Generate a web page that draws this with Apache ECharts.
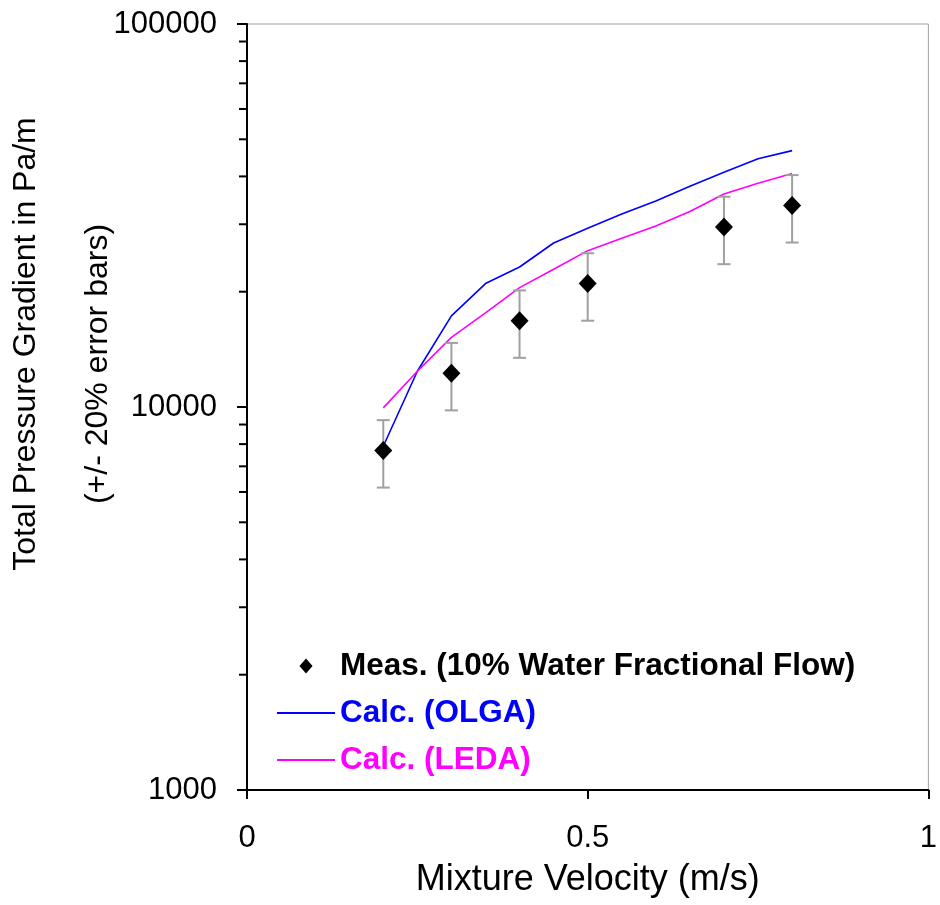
<!DOCTYPE html>
<html>
<head>
<meta charset="utf-8">
<script src="https://cdn.jsdelivr.net/npm/echarts@6/dist/echarts.min.js"></script>
<style>
html,body{margin:0;padding:0;background:#fff;}
#chart{width:940px;height:905px;}
</style>
</head>
<body>
<div id="chart"></div>
<script>
// ---- data ----
const measVelocity = [0.2, 0.3, 0.4, 0.5, 0.7, 0.8];
const measGradient = [7700, 12250, 16800, 21000, 29500, 33600];
const errorFraction = 0.20; // +/- 20% error bars

const calcVelocity = [0.2, 0.25, 0.3, 0.35, 0.4, 0.45, 0.5, 0.55, 0.6, 0.65, 0.7, 0.75, 0.8];
const olgaGradient = [7900, 12400, 17300, 21000, 23200, 26800, 29300, 31900, 34500, 37700, 41000, 44500, 46700];
const ledaGradient = [9950, 12400, 15200, 17600, 20500, 22900, 25600, 27600, 29700, 32400, 36000, 38400, 40700];

const xTicks = [0, 0.5, 1];
const yMajorTicks = [1000, 10000, 100000];
const yMinorTicks = [2000, 3000, 4000, 5000, 6000, 7000, 8000, 9000,
                     20000, 30000, 40000, 50000, 60000, 70000, 80000, 90000];

const measName = 'Meas. (10% Water Fractional Flow)';
const olgaName = 'Calc. (OLGA)';
const ledaName = 'Calc. (LEDA)';
const yTitle1 = 'Total Pressure Gradient in Pa/m';
const yTitle2 = '(+/- 20% error bars)';
const xTitle = 'Mixture Velocity (m/s)';

// ---- build ----
const FONT = '"Liberation Sans", Arial, sans-serif';
const measData = measVelocity.map((x, i) => [x, measGradient[i]]);
const errData = measVelocity.map((x, i) => [x, measGradient[i] * (1 - errorFraction), measGradient[i] * (1 + errorFraction)]);
const olgaData = calcVelocity.map((x, i) => [x, olgaGradient[i]]);
const ledaData = calcVelocity.map((x, i) => [x, ledaGradient[i]]);
const minorData = yMinorTicks.map(v => [xTicks[0], v]);

const chart = echarts.init(document.getElementById('chart'), null, {renderer: 'canvas'});
chart.setOption({
  backgroundColor: '#ffffff',
  animation: false,
  textStyle: {fontFamily: FONT},
  grid: {left: 247, right: 9, top: 24, bottom: 115, show: true, borderColor: '#a0a0a0', borderWidth: 1, backgroundColor: 'transparent'},
  xAxis: {
    type: 'value', min: xTicks[0], max: xTicks[xTicks.length - 1], interval: 0.5,
    name: xTitle, nameLocation: 'middle', nameGap: 72,
    nameTextStyle: {fontSize: 36, color: '#000', fontFamily: FONT},
    axisLine: {show: true, lineStyle: {color: '#000', width: 2}},
    axisTick: {show: true, inside: false, length: 9, lineStyle: {color: '#000', width: 2}},
    axisLabel: {fontSize: 31, color: '#000', margin: 33, fontFamily: FONT},
    splitLine: {show: false}
  },
  yAxis: {
    type: 'log', logBase: 10, min: yMajorTicks[0], max: yMajorTicks[yMajorTicks.length - 1],
    axisLine: {show: true, lineStyle: {color: '#000', width: 2}},
    axisTick: {show: true, inside: false, length: 10, lineStyle: {color: '#000', width: 2}},
    axisLabel: {fontSize: 31, color: '#000', margin: 30, fontFamily: FONT,
                formatter: v => String(Math.round(v))},
    splitLine: {show: false},
    minorTick: {show: false}
  },
  legend: {
    orient: 'vertical', left: 271, top: 645,
    itemWidth: 58, itemHeight: 15, itemGap: 15,
    symbolKeepAspect: true,
    textStyle: {fontSize: 31.5, fontWeight: 'bold', fontFamily: FONT, color: '#000'},
    data: [
      {name: measName, textStyle: {color: '#000'}, icon: 'path://M0,8L7,0L14,8L7,16Z'},
      {name: olgaName, textStyle: {color: '#0000ff'}, itemStyle: {opacity: 0}},
      {name: ledaName, textStyle: {color: '#ff00ff'}, itemStyle: {opacity: 0}}
    ]
  },
  graphic: [
    {type: 'text', x: 26, y: 344, rotation: Math.PI / 2,
     style: {text: yTitle1, font: '32px ' + FONT, fill: '#000', textAlign: 'center', textVerticalAlign: 'middle'}},
    {type: 'text', x: 98, y: 364, rotation: Math.PI / 2,
     style: {text: yTitle2, font: '32px ' + FONT, fill: '#000', textAlign: 'center', textVerticalAlign: 'middle'}}
  ],
  series: [
    {
      name: 'minorTicks', type: 'custom', data: minorData, silent: true, z: 5, clip: false,
      renderItem: function (params, api) {
        const p = api.coord([api.value(0), api.value(1)]);
        return {type: 'line', shape: {x1: p[0] - 8, y1: p[1], x2: p[0], y2: p[1]},
                style: {stroke: '#000', lineWidth: 2}};
      }
    },
    {
      name: olgaName, type: 'line', data: olgaData, symbol: 'none', smooth: false,
      lineStyle: {color: '#0000ff', width: 1.6}, itemStyle: {color: '#0000ff'}, z: 3
    },
    {
      name: ledaName, type: 'line', data: ledaData, symbol: 'none', smooth: false,
      lineStyle: {color: '#ff00ff', width: 1.6}, itemStyle: {color: '#ff00ff'}, z: 3
    },
    {
      name: 'err', type: 'custom', data: errData, z: 4, silent: true,
      renderItem: function (params, api) {
        const x = api.value(0);
        const lo = api.coord([x, api.value(1)]);
        const hi = api.coord([x, api.value(2)]);
        const hw = 6.5;
        const st = {stroke: '#a0a0a0', lineWidth: 2};
        return {type: 'group', children: [
          {type: 'line', shape: {x1: lo[0], y1: lo[1], x2: hi[0], y2: hi[1]}, style: st},
          {type: 'line', shape: {x1: lo[0] - hw, y1: lo[1], x2: lo[0] + hw, y2: lo[1]}, style: st},
          {type: 'line', shape: {x1: hi[0] - hw, y1: hi[1], x2: hi[0] + hw, y2: hi[1]}, style: st}
        ]};
      }
    },
    {
      name: measName, type: 'scatter', data: measData, symbol: 'diamond', symbolSize: [18, 19],
      itemStyle: {color: '#000', opacity: 1}, z: 6
    }
  ]
});
</script>
</body>
</html>
